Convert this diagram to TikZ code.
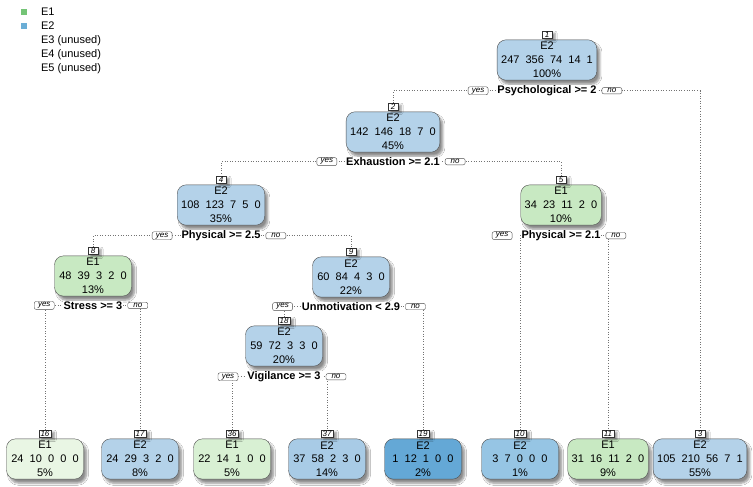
\documentclass[tikz,border=0pt]{standalone}
\usepackage{fontspec}
\setmainfont{Liberation Sans}
\usetikzlibrary{positioning,backgrounds,shadows.blur}

\definecolor{grnA}{RGB}{200,233,194}
\definecolor{grnB}{RGB}{216,240,211}
\definecolor{grnC}{RGB}{233,246,228}
\definecolor{bluA}{RGB}{180,210,233}
\definecolor{bluB}{RGB}{168,203,230}
\definecolor{bluC}{RGB}{150,197,228}
\definecolor{bluD}{RGB}{100,168,214}
\definecolor{keyE1}{RGB}{116,196,118}
\definecolor{keyE2}{RGB}{107,174,214}

\begin{document}
\begin{tikzpicture}[x=1bp,y=-1bp,
    every node/.style={font=\fontsize{11bp}{13.8bp}\selectfont},
    box/.style={draw=black!70, rounded corners=9bp, align=center,
      inner xsep=4bp, inner ysep=2.5bp, minimum width=77bp,
      blur shadow={shadow xshift=3bp, shadow yshift=-4bp,
        shadow blur steps=6, shadow opacity=45}},
    tag/.style={draw=black!80, fill=white, inner xsep=1.8bp, inner ysep=0.8bp,
      minimum width=10bp, font=\fontsize{8bp}{8bp}\selectfont\itshape,
      blur shadow={shadow xshift=3bp, shadow yshift=-2bp,
        shadow blur steps=4, shadow opacity=45}},
    split/.style={fill=white, inner xsep=1bp, inner ysep=1bp,
      font=\fontsize{11bp}{12bp}\selectfont\bfseries},
    answer/.style={draw=black!70, fill=white, rounded corners=2bp,
      inner xsep=3bp, inner ysep=1bp, minimum width=20bp,
      font=\fontsize{8bp}{8bp}\selectfont\itshape},
    branch/.style={draw=black!55, dotted, line width=0.6bp},
    key/.style={minimum size=6bp, inner sep=0pt}]

    \useasboundingbox (0,0) rectangle (753,487);

    % Legend
    \node[key, fill=keyE1] (k1) at (24,12) {};
    \node[key, fill=keyE2] (k2) at (24,26) {};
    \node[anchor=west] at (37.5,12) {E1};
    \node[anchor=west] at (37.5,26) {E2};
    \node[anchor=west] at (37.5,40.5) {E3 (unused)};
    \node[anchor=west] at (37.5,54.5) {E4 (unused)};
    \node[anchor=west] at (37.5,69) {E5 (unused)};

    % Define vertices
    \node[box, fill=bluA] (n1) at (547,60) {E2\\247~~356~~74~~14~~1\\100\%};
    \node[box, fill=bluA] (n2) at (393,132) {E2\\142~~146~~18~~7~~0\\45\%};
    \node[box, fill=bluA] (n4) at (221,205) {E2\\108~~123~~7~~5~~0\\35\%};
    \node[box, fill=grnA] (n5) at (561,205) {E1\\34~~23~~11~~2~~0\\10\%};
    \node[box, fill=grnA] (n8) at (93,276) {E1\\48~~39~~3~~2~~0\\13\%};
    \node[box, fill=bluA] (n9) at (351,277) {E2\\60~~84~~4~~3~~0\\22\%};
    \node[box, fill=bluA] (n18) at (284,346) {E2\\59~~72~~3~~3~~0\\20\%};

    % Leaves
    \node[box, fill=grnC] (n16) at (45,459) {E1\\24~~10~~0~~0~~0\\5\%};
    \node[box, fill=bluA] (n17) at (140,459) {E2\\24~~29~~3~~2~~0\\8\%};
    \node[box, fill=grnB] (n36) at (232,459) {E1\\22~~14~~1~~0~~0\\5\%};
    \node[box, fill=bluB] (n37) at (327,459) {E2\\37~~58~~2~~3~~0\\14\%};
    \node[box, fill=bluD] (n19) at (423,459) {E2\\1~~12~~1~~0~~0\\2\%};
    \node[box, fill=bluC] (n10) at (520,459) {E2\\3~~7~~0~~0~~0\\1\%};
    \node[box, fill=grnA] (n11) at (608,459) {E1\\31~~16~~11~~2~~0\\9\%};
    \node[box, fill=bluA] (n3) at (700,459) {E2\\105~~210~~56~~7~~1\\55\%};

    % Node numbers
    \foreach \i in {1,2,4,5,8,9,18,16,17,36,37,19,10,11,3}
        \node[tag, above=1bp of n\i] (t\i) {\i};

    % Split labels with yes / no
    \foreach \i/\txt in {1/Psychological >= 2, 2/Exhaustion >= 2.1,
        4/Physical >= 2.5, 5/Physical >= 2.1, 8/Stress >= 3,
        9/Unmotivation < 2.9, 18/Vigilance >= 3} {
        \node[split, below=4bp of n\i] (s\i) {\txt};
        \node[answer, left=8bp of s\i] (yes\i) {yes};
        \node[answer, right=4bp of s\i] (no\i) {no};
    }

    % Draw edges
    \begin{pgfonlayer}{background}
        \fill[white] (0,0) rectangle (753,487);
        \draw[branch] (t2.north) |- (s1.center) -| (t3.north);
        \draw[branch] (t4.north) |- (s2.center) -| (t5.north);
        \draw[branch] (t8.north) |- (s4.center) -| (t9.north);
        \draw[branch] (t10.north) |- (s5.center) -| (t11.north);
        \draw[branch] (t16.north) |- (s8.center) -| (t17.north);
        \draw[branch] (t18.north) |- (s9.center) -| (t19.north);
        \draw[branch] (t36.north) |- (s18.center) -| (t37.north);
    \end{pgfonlayer}

\end{tikzpicture}
\end{document}
